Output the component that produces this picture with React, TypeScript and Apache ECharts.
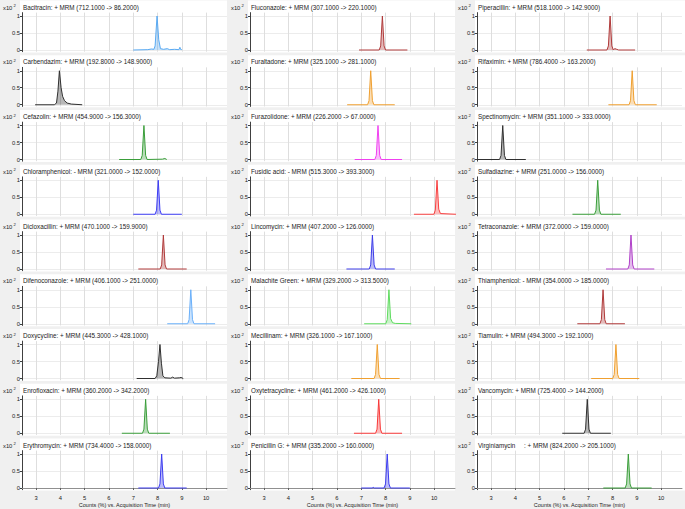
import React, { useEffect, useRef } from "react";
import * as echarts from "echarts";

// ---- data ----
const TITLES = [
  "Bacitracin: + MRM (712.1000 -> 86.2000)",
  "Carbendazim: + MRM (192.8000 -> 148.9000)",
  "Cefazolin: + MRM (454.9000 -> 156.3000)",
  "Chloramphenicol: - MRM (321.0000 -> 152.0000)",
  "Dicloxacillin: + MRM (470.1000 -> 159.9000)",
  "Difenoconazole: + MRM (406.1000 -> 251.0000)",
  "Doxycycline: + MRM (445.3000 -> 428.1000)",
  "Enrofloxacin: + MRM (360.2000 -> 342.2000)",
  "Erythromycin: + MRM (734.4000 -> 158.0000)",
  "Fluconazole: + MRM (307.1000 -> 220.1000)",
  "Furaltadone: + MRM (325.1000 -> 281.1000)",
  "Furazolidone: + MRM (226.2000 -> 67.0000)",
  "Fusidic acid: - MRM (515.3000 -> 393.3000)",
  "Lincomycin: + MRM (407.2000 -> 126.0000)",
  "Malachite Green: + MRM (329.2000 -> 313.5000)",
  "Mecillinam: + MRM (326.1000 -> 167.1000)",
  "Oxytetracycline: + MRM (461.2000 -> 426.1000)",
  "Penicillin G: + MRM (335.2000 -> 160.0000)",
  "Piperacillin: + MRM (518.1000 -> 142.9000)",
  "Rifaximin: + MRM (786.4000 -> 163.2000)",
  "Spectinomycin: + MRM (351.1000 -> 333.0000)",
  "Sulfadiazine: + MRM (251.0000 -> 156.0000)",
  "Tetraconazole: + MRM (372.0000 -> 159.0000)",
  "Thiamphenicol: - MRM (354.0000 -> 185.0000)",
  "Tiamulin: + MRM (494.3000 -> 192.1000)",
  "Vancomycin: + MRM (725.4000 -> 144.2000)",
  "Virginiamycin     : + MRM (824.2000 -> 205.1000)",
];

const X_TICKS = [3, 4, 5, 6, 7, 8, 9, 10];
const Y_TICKS = [0, 0.5, 1];
const X_TITLE = "Counts (%) vs. Acquisition Time (min)";

const bacitracin = [[7.0,0],[7.6,0.01],[7.75,0.03],[7.85,0.02],[7.9,0.12],[7.98,1.0],[8.05,0.3],[8.12,0.04],[8.25,0.02],[8.4,0.04],[8.5,0.01],[8.7,0.02],[8.88,0.01],[8.92,0.08],[8.95,0.02],[9.0,0.01]];
const carbendazim = [[2.96,0],[3.75,0],[3.84,0.05],[3.9,0.4],[3.96,1.0],[4.03,0.5],[4.09,0.25],[4.17,0.12],[4.28,0.05],[4.45,0.02],[4.9,0]];
const cefazolin = [[6.42,0],[7.31,0],[7.37,0.12],[7.44,1.0],[7.51,0.12],[7.57,0],[8.2,0.01],[8.3,0.03],[8.38,0]];
const chloramphenicol = [[7.0,0],[7.9,0],[7.96,0.12],[8.03,1.0],[8.1,0.12],[8.16,0],[9.0,0]];
const dicloxacillin = [[7.21,0],[8.11,0],[8.17,0.12],[8.24,1.0],[8.31,0.12],[8.37,0],[9.2,0]];
const difenoconazole = [[8.4,0],[9.24,0],[9.3,0.12],[9.37,1.0],[9.44,0.12],[9.5,0],[10.37,0]];
const doxycycline = [[7.14,0],[7.9,0],[7.97,0.08],[8.04,0.5],[8.1,1.0],[8.16,0.45],[8.22,0.08],[8.3,0.02],[8.55,0.01],[8.62,0.04],[8.7,0.01],[8.9,0.02],[8.97,0.03],[9.06,0]];
const enrofloxacin = [[6.53,0],[7.38,0],[7.44,0.12],[7.51,1.0],[7.58,0.12],[7.64,0],[8.51,0]];
const erythromycin = [[7.21,0],[8.04,0],[8.1,0.12],[8.17,1.0],[8.24,0.12],[8.3,0],[9.2,0]];
const fluconazole = [[6.91,0],[7.74,0],[7.8,0.12],[7.87,1.0],[7.94,0.12],[8.0,0],[8.9,0]];
const furaltadone = [[6.42,0],[7.26,0],[7.32,0.12],[7.39,1.0],[7.46,0.12],[7.52,0],[8.38,0]];
const furazolidone = [[6.73,0],[7.56,0],[7.62,0.12],[7.69,1.0],[7.76,0.12],[7.82,0],[8.68,0]];
const fusidicAcid = [[9.17,0],[9.99,0],[10.05,0.12],[10.12,1.0],[10.19,0.15],[10.26,0.02],[10.9,0]];
const lincomycin = [[6.39,0],[7.33,0],[7.39,0.12],[7.46,1.0],[7.53,0.12],[7.59,0],[8.38,0]];
const malachiteGreen = [[7.12,0],[8.01,0],[8.07,0.12],[8.14,1.0],[8.21,0.15],[8.29,0.03],[8.4,0.01],[9.06,0]];
const mecillinam = [[6.59,0],[7.53,0],[7.59,0.12],[7.66,1.0],[7.73,0.12],[7.79,0],[8.58,0]];
const oxytetracycline = [[6.7,0],[7.59,0],[7.65,0.12],[7.72,1.0],[7.79,0.12],[7.85,0],[8.68,0]];
const penicillinG = [[7.0,0],[7.45,0],[7.49,0.02],[7.53,0],[7.94,0],[8.0,0.12],[8.07,1.0],[8.14,0.12],[8.2,0],[9.0,0]];
const piperacillin = [[6.94,0],[7.77,0],[7.83,0.12],[7.9,1.0],[7.97,0.12],[8.03,0.01],[8.1,0.04],[8.17,0.02],[8.25,0],[8.93,0]];
const rifaximin = [[7.83,0],[8.68,0],[8.74,0.12],[8.81,1.0],[8.88,0.12],[8.94,0],[9.82,0]];
const spectinomycin = [[2.42,0],[3.35,0],[3.41,0.12],[3.48,1.0],[3.55,0.12],[3.61,0],[4.43,0]];
const sulfadiazine = [[6.35,0],[7.26,0],[7.32,0.12],[7.39,1.0],[7.46,0.12],[7.52,0],[8.34,0]];
const tetraconazole = [[7.73,0],[8.63,0],[8.69,0.12],[8.76,1.0],[8.83,0.12],[8.89,0],[9.72,0]];
const thiamphenicol = [[6.55,0],[7.48,0],[7.54,0.12],[7.61,1.0],[7.68,0.12],[7.74,0],[8.51,0]];
const tiamulin = [[7.12,0],[8.01,0],[8.07,0.12],[8.14,1.0],[8.21,0.12],[8.27,0],[9.1,0]];
const vancomycin = [[5.93,0],[6.83,0],[6.89,0.12],[6.96,1.0],[7.03,0.12],[7.09,0],[7.93,0]];
const virginiamycin = [[7.62,0],[8.52,0],[8.58,0.12],[8.65,1.0],[8.72,0.12],[8.78,0],[9.61,0]];

const TRACES = [
  bacitracin, carbendazim, cefazolin, chloramphenicol, dicloxacillin, difenoconazole, doxycycline, enrofloxacin, erythromycin,
  fluconazole, furaltadone, furazolidone, fusidicAcid, lincomycin, malachiteGreen, mecillinam, oxytetracycline, penicillinG,
  piperacillin, rifaximin, spectinomycin, sulfadiazine, tetraconazole, thiamphenicol, tiamulin, vancomycin, virginiamycin,
];

// ---- styles ----
const COLORS = [
  "#5aaaf2", "#303030", "#3a9e3a", "#3c3cf5", "#b03a3a", "#6ab0fa", "#303030", "#3a9e3a", "#3c3cf0",
  "#b03a3a", "#f0a030", "#f040f0", "#f84040", "#3c3ce8", "#60dc60", "#f0a030", "#f83838", "#3c3cf0",
  "#b03a3a", "#f0a030", "#303030", "#3a9e3a", "#b040c8", "#b03a3a", "#f0a030", "#303030", "#3a9e3a",
];

const FONT = "'Liberation Sans', Arial, sans-serif";
const COL_X = [0, 228, 455];

export default function App() {
  const ref = useRef<HTMLDivElement>(null);
  useEffect(() => {
    document.body.style.margin = "0";
    if (!ref.current) return;
    const chart = echarts.init(ref.current, undefined, { renderer: "svg" });
    const grid: any[] = [];
    const xAxis: any[] = [];
    const yAxis: any[] = [];
    const series: any[] = [];
    const graphic: any[] = [];

    TRACES.forEach((data, i) => {
      const c = Math.floor(i / 9);
      const r = i % 9;
      const cx = COL_X[c];
      const y0 = 50 + r * 54.75;
      const last = r === 8;
      graphic.push({
        type: "rect",
        z: -5,
        shape: { x: cx + 20, y: y0 - 49.5, width: c === 2 ? 685 - (cx + 20) : 207, height: 52 },
        style: { fill: "#ffffff" },
      });
      graphic.push({
        type: "text",
        x: cx + 23,
        y: y0 - 43,
        style: { text: TITLES[i], font: `6.3px ${FONT}`, fill: "#222", verticalAlign: "middle" },
      });
      graphic.push({
        type: "text",
        x: cx + 3,
        y: y0 - 42.5,
        style: { text: "x10", font: `5.8px ${FONT}`, fill: "#222", verticalAlign: "middle" },
      });
      graphic.push({
        type: "text",
        x: cx + 13.6,
        y: y0 - 44.5,
        style: { text: "2", font: `4.2px ${FONT}`, fill: "#222", verticalAlign: "middle" },
      });
      grid.push({ left: cx + 22, top: y0 - 37.4, width: 205, height: 39.1 });
      xAxis.push({
        type: "value",
        gridIndex: i,
        min: 2.42,
        max: 10.86,
        splitNumber: 8,
        axisLine: { show: last, lineStyle: { color: "#909090", width: 1 } },
        axisTick: { show: last, length: 2, customValues: X_TICKS, lineStyle: { color: "#606060" } },
        axisLabel: {
          show: last,
          customValues: X_TICKS,
          margin: 5,
          fontSize: 5.8,
          fontFamily: FONT,
          color: "#222",
        },
        splitLine: { show: true, lineStyle: { color: "#dedede", width: 1 } },
        name: last ? X_TITLE : "",
        nameLocation: "middle",
        nameGap: 11,
        nameTextStyle: { fontSize: 5.5, fontFamily: FONT, color: "#222" },
      });
      yAxis.push({
        type: "value",
        gridIndex: i,
        min: -0.05,
        max: 1.1,
        axisLine: { show: true, lineStyle: { color: "#404040", width: 1 } },
        axisTick: { show: true, inside: false, length: 2, customValues: Y_TICKS, lineStyle: { color: "#404040" } },
        axisLabel: { customValues: Y_TICKS, margin: 2, fontSize: 5.8, fontFamily: FONT, color: "#222" },
        splitLine: { show: true, lineStyle: { color: "#ececec", width: 1 } },
      });
      series.push({
        type: "line",
        xAxisIndex: i,
        yAxisIndex: i,
        data,
        symbol: "none",
        silent: true,
        lineStyle: { color: COLORS[i], width: 1 },
        areaStyle: { color: COLORS[i], opacity: 0.35 },
      });
    });

    chart.setOption({
      animation: false,
      backgroundColor: "#f0f0f0",
      grid,
      xAxis,
      yAxis,
      series,
      graphic,
    });
    return () => chart.dispose();
  }, []);
  return <div ref={ref} style={{ width: 685, height: 509 }} />;
}
